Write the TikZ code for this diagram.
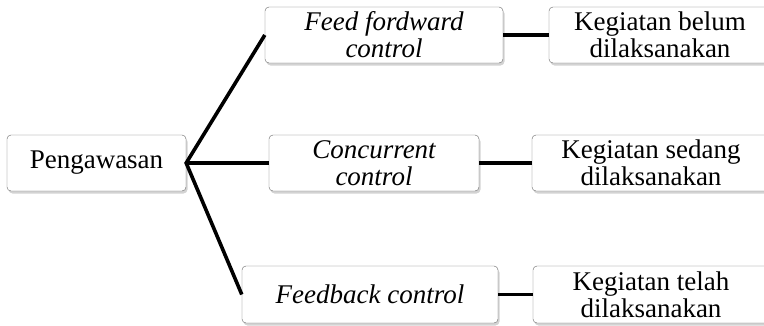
\documentclass[tikz,border=0pt]{standalone}
\usepackage{fontspec}
\setmainfont{Liberation Serif}
\usetikzlibrary{shadows}
\begin{document}
\begin{tikzpicture}[x=1pt,y=-1pt,
		box/.style={draw=black!60,fill=white,rounded corners=4pt,minimum height=56pt,
					inner sep=0pt,align=center,text=black,font=\fontsize{27}{27}\selectfont,
					drop shadow={opacity=0.35,shadow xshift=1.5pt,shadow yshift=-2.5pt}},
		link/.style={line width=3.6pt}]
		\clip (0,0) rectangle (764,325);
		% left column
		\node[box,minimum width=179pt] (peng) at (96.5,163) {Pengawasan};
		% middle column
		\node[box,minimum width=238pt] (ff) at (384,35) {\itshape Feed fordward\\\itshape control};
		\node[box,minimum width=210pt] (cc) at (374,163) {\itshape Concurrent\\\itshape control};
		\node[box,minimum width=256pt,minimum height=57pt] (fb) at (370,294.5) {\itshape Feedback control};
		% right column
		\node[box,minimum width=222pt] (belum) at (660,35) {Kegiatan belum\\dilaksanakan};
		\node[box,minimum width=238pt] (sedang) at (651,163) {Kegiatan sedang\\dilaksanakan};
		\node[box,minimum width=236pt,minimum height=57pt] (telah) at (651,294.5) {Kegiatan telah\\dilaksanakan};
		\draw[link] (ff.west) -- (peng.east) -- (fb.west);
		\draw[link] (peng.east) -- (cc.west);
		\draw[link] (ff.east) -- (belum.west);
		\draw[link] (cc.east) -- (sedang.west);
		\draw[link] (fb.east) -- (telah.west);
	\end{tikzpicture}
\end{document}
